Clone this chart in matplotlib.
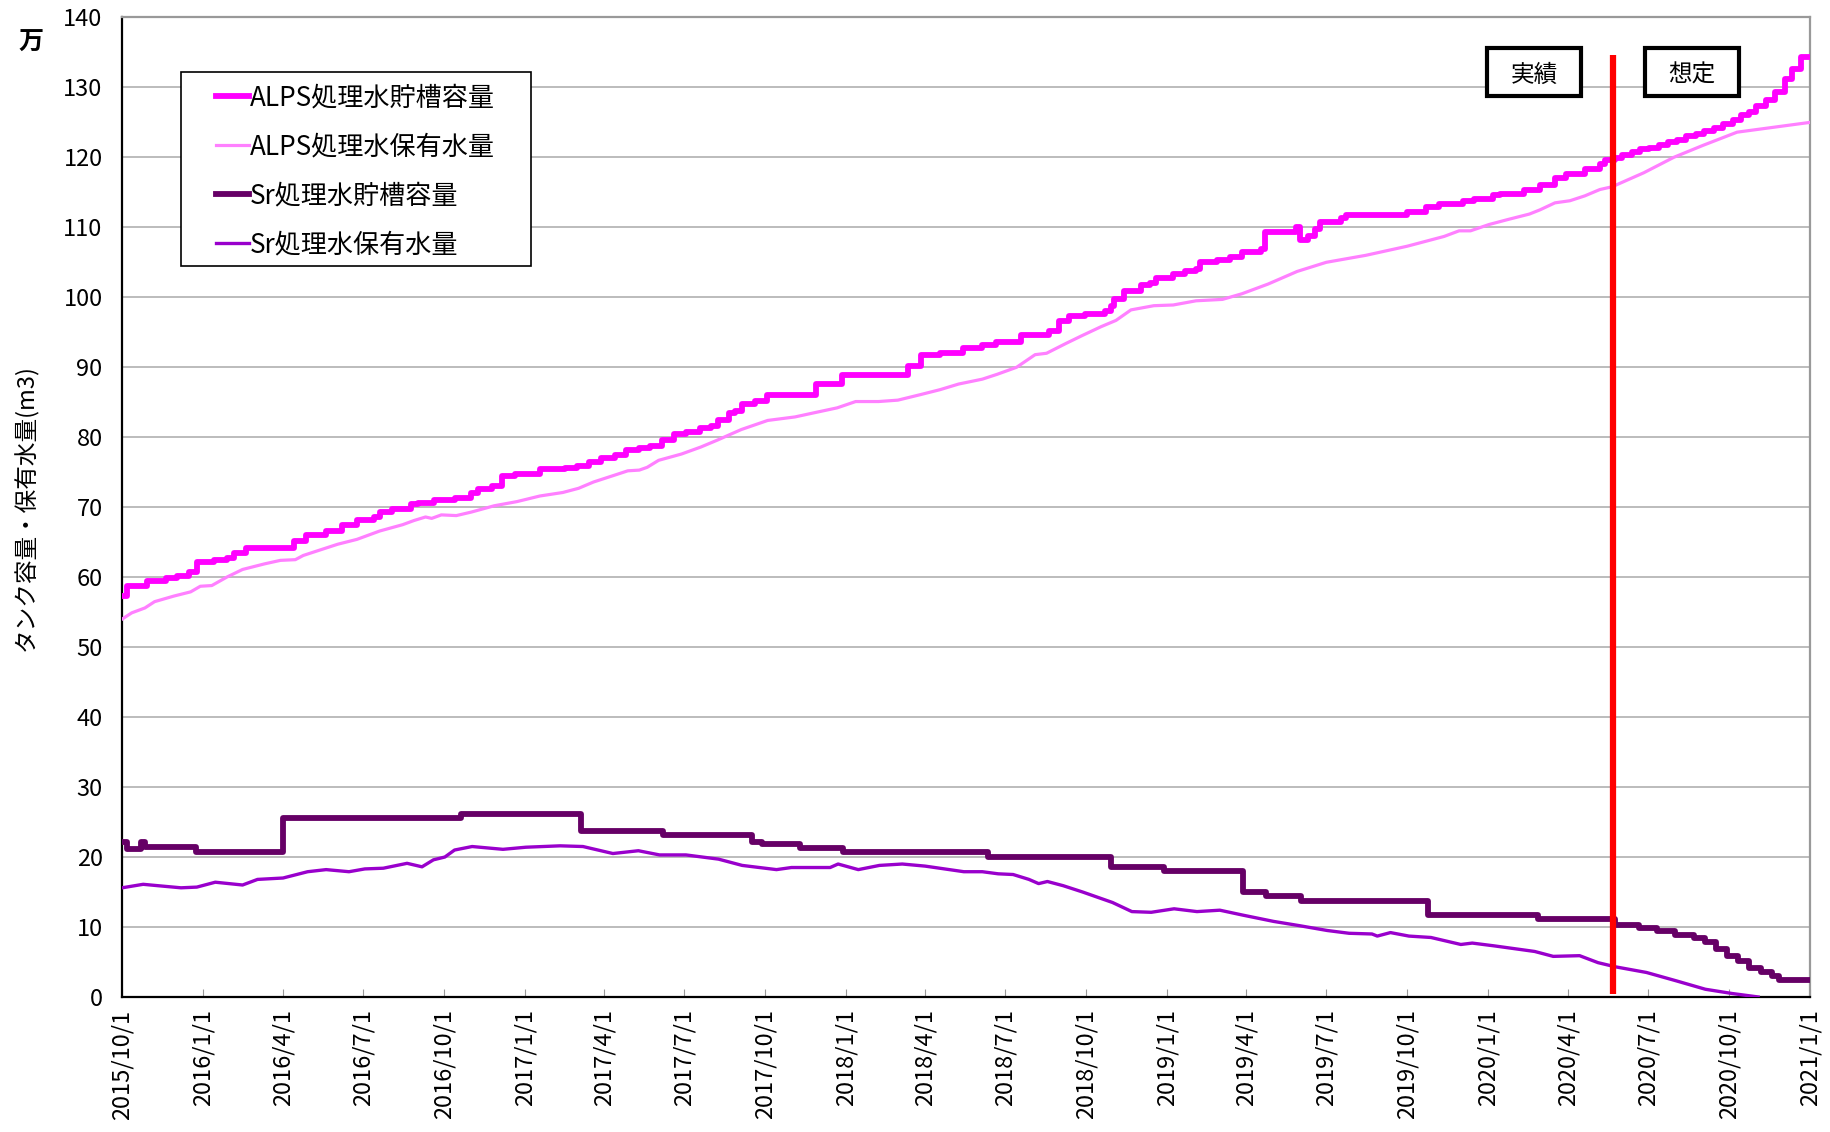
import numpy as np
import pandas as pd
import matplotlib
matplotlib.use('Agg')
import matplotlib.pyplot as plt
import matplotlib.dates as mdates
from matplotlib.patches import Rectangle

plt.rcParams['font.family'] = ['Noto Sans CJK JP', 'DejaVu Sans']

# ALPS処理水貯槽容量 (万m3), 階段状
alps_cap_dates = [
    '2015-10-01', '2015-10-07', '2015-10-29', '2015-11-20', '2015-12-03', '2015-12-16',
    '2015-12-25', '2016-01-14', '2016-01-28', '2016-02-05', '2016-02-19', '2016-04-13',
    '2016-04-27', '2016-05-20', '2016-06-07', '2016-06-24', '2016-07-13', '2016-07-20',
    '2016-08-03', '2016-08-24', '2016-09-01', '2016-09-20', '2016-10-13', '2016-11-01',
    '2016-11-09', '2016-11-25', '2016-12-06', '2016-12-21', '2017-01-18', '2017-02-16',
    '2017-03-01', '2017-03-15', '2017-03-29', '2017-04-13', '2017-04-26', '2017-05-11',
    '2017-05-23', '2017-06-06', '2017-06-20', '2017-07-03', '2017-07-19', '2017-08-01',
    '2017-08-08', '2017-08-21', '2017-08-28', '2017-09-05', '2017-09-20', '2017-10-03',
    '2017-11-28', '2017-12-27', '2018-03-13', '2018-03-27', '2018-04-18', '2018-05-14',
    '2018-06-05', '2018-06-20', '2018-07-19', '2018-08-20', '2018-08-31', '2018-09-11',
    '2018-09-30', '2018-10-22', '2018-10-29', '2018-11-02', '2018-11-13', '2018-12-02',
    '2018-12-13', '2018-12-20', '2019-01-08', '2019-01-21', '2019-02-03', '2019-02-07',
    '2019-02-27', '2019-03-14', '2019-03-27', '2019-04-18', '2019-04-22', '2019-05-28',
    '2019-06-01', '2019-06-10', '2019-06-18', '2019-06-24', '2019-07-18', '2019-07-24',
    '2019-10-01', '2019-10-22', '2019-11-06', '2019-11-14', '2019-12-03', '2019-12-16',
    '2020-01-06', '2020-01-14', '2020-02-11', '2020-02-29', '2020-03-17', '2020-03-30',
    '2020-04-20', '2020-05-07', '2020-05-13', '2020-05-24', '2020-06-01', '2020-06-13',
    '2020-06-22', '2020-07-02', '2020-07-13', '2020-07-23', '2020-08-03', '2020-08-13',
    '2020-08-24', '2020-09-03', '2020-09-14', '2020-09-24', '2020-10-05', '2020-10-15',
    '2020-10-24', '2020-11-01', '2020-11-12', '2020-11-22', '2020-12-03', '2020-12-11',
    '2020-12-22', '2021-01-01']
alps_cap_vals = [
    57.3, 58.8, 59.5, 59.9, 60.2, 60.7,
    62.1, 62.4, 62.8, 63.5, 64.2, 65.1,
    66.0, 66.6, 67.4, 68.1, 68.6, 69.3,
    69.7, 70.4, 70.6, 71.0, 71.3, 72.0,
    72.6, 73.1, 74.4, 74.7, 75.4, 75.6,
    75.9, 76.4, 77.0, 77.5, 78.2, 78.4,
    78.8, 79.6, 80.4, 80.8, 81.3, 81.6,
    82.4, 83.4, 83.8, 84.7, 85.2, 86.1,
    87.6, 88.9, 90.2, 91.8, 92.1, 92.7,
    93.2, 93.6, 94.6, 95.2, 96.6, 97.3,
    97.6, 98.0, 98.8, 99.7, 100.9, 101.8,
    102.1, 102.8, 103.3, 103.7, 104.0, 105.1,
    105.4, 105.8, 106.5, 106.9, 109.3, 110.0,
    108.2, 108.7, 109.7, 110.7, 111.3, 111.7,
    112.2, 112.9, 113.3, 113.4, 113.7, 114.1,
    114.6, 114.8, 115.3, 116.1, 117.0, 117.6,
    118.3, 119.1, 119.6, 119.9, 120.4, 120.8,
    121.2, 121.4, 121.8, 122.2, 122.5, 123.0,
    123.3, 123.8, 124.2, 124.8, 125.3, 126.0,
    126.5, 127.3, 128.2, 129.4, 131.2, 132.6,
    134.3, 134.3]

# ALPS処理水保有水量 (万m3)
alps_hold_dates = [
    '2015-10-01', '2015-10-12', '2015-10-27', '2015-11-07', '2015-11-29', '2015-12-18',
    '2015-12-29', '2016-01-11', '2016-01-28', '2016-02-15', '2016-03-11', '2016-03-29',
    '2016-04-15', '2016-04-24', '2016-05-11', '2016-06-02', '2016-06-24', '2016-07-20',
    '2016-08-15', '2016-08-28', '2016-09-10', '2016-09-17', '2016-09-28', '2016-10-15',
    '2016-11-01', '2016-11-27', '2016-12-23', '2017-01-18', '2017-02-13', '2017-03-03',
    '2017-03-20', '2017-04-11', '2017-04-28', '2017-05-11', '2017-05-20', '2017-06-02',
    '2017-06-28', '2017-07-20', '2017-08-08', '2017-09-04', '2017-10-04', '2017-11-04',
    '2017-11-26', '2017-12-22', '2018-01-12', '2018-02-07', '2018-03-01', '2018-03-27',
    '2018-04-18', '2018-05-09', '2018-06-05', '2018-06-22', '2018-07-14', '2018-08-04',
    '2018-08-17', '2018-09-08', '2018-09-26', '2018-10-18', '2018-11-04', '2018-11-21',
    '2018-12-17', '2019-01-08', '2019-02-03', '2019-03-05', '2019-03-27', '2019-04-26',
    '2019-05-29', '2019-07-01', '2019-08-15', '2019-10-01', '2019-10-22', '2019-11-12',
    '2019-11-29', '2019-12-12', '2020-01-02', '2020-01-23', '2020-02-17', '2020-02-29',
    '2020-03-17', '2020-04-03', '2020-04-20', '2020-05-07', '2020-05-21', '2020-06-26',
    '2020-07-30', '2020-09-01', '2020-10-10', '2021-01-01']
alps_hold_vals = [
    54.0, 54.9, 55.6, 56.5, 57.3, 57.9,
    58.7, 58.8, 60.0, 61.1, 61.9, 62.4,
    62.5, 63.1, 63.8, 64.7, 65.4, 66.6,
    67.5, 68.1, 68.6, 68.4, 68.9, 68.8,
    69.3, 70.2, 70.8, 71.6, 72.1, 72.7,
    73.6, 74.5, 75.2, 75.3, 75.7, 76.7,
    77.6, 78.6, 79.6, 81.1, 82.4, 82.9,
    83.5, 84.2, 85.1, 85.1, 85.3, 86.1,
    86.8, 87.6, 88.3, 89.0, 90.0, 91.8,
    92.0, 93.4, 94.5, 95.8, 96.7, 98.2,
    98.8, 98.9, 99.5, 99.7, 100.5, 101.9,
    103.7, 105.0, 106.0, 107.3, 108.0, 108.7,
    109.5, 109.5, 110.4, 111.1, 111.9, 112.5,
    113.5, 113.8, 114.5, 115.4, 115.8, 117.8,
    120.0, 121.7, 123.6, 125.0]

# Sr処理水貯槽容量 (万m3), 階段状
sr_cap_dates = [
    '2015-10-01', '2015-10-07', '2015-10-23', '2015-10-27', '2015-12-24', '2016-04-01',
    '2016-10-20', '2017-03-06', '2017-06-07', '2017-09-16', '2017-09-27', '2017-11-10',
    '2017-12-29', '2018-06-11', '2018-10-29', '2018-12-28', '2019-03-28', '2019-04-23',
    '2019-06-02', '2019-10-25', '2020-02-27', '2020-05-24', '2020-06-20', '2020-07-11',
    '2020-08-01', '2020-08-22', '2020-09-04', '2020-09-16', '2020-09-29', '2020-10-11',
    '2020-10-24', '2020-11-06', '2020-11-19', '2020-11-27', '2021-01-01']
sr_cap_vals = [
    22.1, 21.1, 22.1, 21.4, 20.7, 25.6,
    26.2, 23.7, 23.1, 22.2, 21.9, 21.3,
    20.7, 20.0, 18.6, 18.0, 15.0, 14.5,
    13.7, 11.7, 11.1, 10.3, 9.8, 9.4,
    8.9, 8.4, 7.8, 6.8, 5.9, 5.1,
    4.1, 3.5, 3.0, 2.4, 2.4]

# Sr処理水保有水量 (万m3)
sr_hold_dates = [
    '2015-10-01', '2015-10-25', '2015-11-11', '2015-12-07', '2015-12-25', '2016-01-15',
    '2016-02-15', '2016-03-03', '2016-04-01', '2016-04-29', '2016-05-20', '2016-06-15',
    '2016-07-03', '2016-07-24', '2016-08-20', '2016-09-06', '2016-09-19', '2016-10-02',
    '2016-10-13', '2016-11-02', '2016-12-07', '2017-01-02', '2017-02-10', '2017-03-08',
    '2017-03-25', '2017-04-11', '2017-05-10', '2017-06-03', '2017-07-03', '2017-08-09',
    '2017-09-05', '2017-10-14', '2017-10-31', '2017-12-14', '2017-12-23', '2018-01-15',
    '2018-02-08', '2018-03-06', '2018-04-01', '2018-05-15', '2018-06-05', '2018-06-23',
    '2018-07-10', '2018-07-28', '2018-08-08', '2018-08-18', '2018-09-05', '2018-09-27',
    '2018-10-31', '2018-11-22', '2018-12-14', '2019-01-09', '2019-02-04', '2019-03-02',
    '2019-03-28', '2019-05-02', '2019-05-31', '2019-07-02', '2019-07-27', '2019-08-22',
    '2019-08-28', '2019-09-12', '2019-10-03', '2019-10-28', '2019-12-01', '2019-12-14',
    '2020-01-08', '2020-02-23', '2020-03-15', '2020-04-14', '2020-05-05', '2020-05-25',
    '2020-06-29', '2020-08-02', '2020-09-04', '2020-10-04', '2020-11-03']
sr_hold_vals = [
    15.6, 16.1, 15.9, 15.6, 15.7, 16.4,
    16.0, 16.8, 17.0, 17.9, 18.2, 17.9,
    18.3, 18.4, 19.1, 18.6, 19.6, 20.0,
    21.0, 21.5, 21.1, 21.4, 21.6, 21.5,
    21.0, 20.5, 20.9, 20.3, 20.3, 19.7,
    18.8, 18.2, 18.5, 18.5, 19.0, 18.2,
    18.8, 19.0, 18.7, 17.9, 17.9, 17.6,
    17.5, 16.8, 16.2, 16.5, 15.9, 15.0,
    13.5, 12.2, 12.1, 12.6, 12.2, 12.4,
    11.7, 10.8, 10.2, 9.5, 9.1, 9.0,
    8.7, 9.2, 8.7, 8.5, 7.5, 7.7,
    7.3, 6.5, 5.8, 5.9, 4.9, 4.3,
    3.5, 2.3, 1.1, 0.5, 0.0]

series_labels = ['ALPS処理水貯槽容量', 'ALPS処理水保有水量', 'Sr処理水貯槽容量', 'Sr処理水保有水量']

# 実績/想定の境目
boundary_date = '2020-05-22'
boundary_top = 134.6

x_start, x_end = '2015-10-01', '2021-01-01'

fig = plt.figure(figsize=(18.3, 11.32), dpi=100)
ax = fig.add_axes([0.0667, 0.1193, 0.9224, 0.8653])

ax.plot(pd.to_datetime(alps_cap_dates), alps_cap_vals, drawstyle='steps-post',
        color='#FF00FF', lw=4.2, label=series_labels[0], zorder=4)
ax.plot(pd.to_datetime(alps_hold_dates), alps_hold_vals,
        color='#FF80FF', lw=2.3, label=series_labels[1], zorder=3)
ax.plot(pd.to_datetime(sr_cap_dates), sr_cap_vals, drawstyle='steps-post',
        color='#660066', lw=4.2, label=series_labels[2], zorder=4)
ax.plot(pd.to_datetime(sr_hold_dates), sr_hold_vals,
        color='#9900CC', lw=2.4, label=series_labels[3], zorder=3)

bd = pd.to_datetime(boundary_date)
ax.plot([bd, bd], [0.4, boundary_top], color='#FF0000', lw=4.5, zorder=6,
        solid_capstyle='butt')

ax.set_xlim(pd.to_datetime(x_start), pd.to_datetime(x_end))
ax.set_ylim(0, 140)
ax.set_yticks(np.arange(0, 141, 10))
ax.yaxis.grid(True, color='#b0b0b0', lw=1.2)
ax.set_axisbelow(True)

ax.xaxis.set_major_locator(mdates.MonthLocator(bymonth=[1, 4, 7, 10], bymonthday=1))
ax.xaxis.set_major_formatter(
    plt.FuncFormatter(lambda v, p: '{0.year}/{0.month}/{0.day}'.format(mdates.num2date(v))))
ax.tick_params(axis='x', direction='in', length=6, color='#999999', pad=9,
               labelsize=17, labelrotation=90)
ax.tick_params(axis='y', length=0, pad=14, labelsize=17)

for s in ['left', 'bottom']:
    ax.spines[s].set_color('black')
    ax.spines[s].set_linewidth(1.6)
for s in ['top', 'right']:
    ax.spines[s].set_color('#999999')
    ax.spines[s].set_linewidth(1.6)

# 凡例 (枠は別に描く)
ax.add_patch(Rectangle((181 / 1830, 1 - 266 / 1132), 350 / 1830, 194 / 1132,
                       transform=fig.transFigure, fc='white', ec='black',
                       lw=1.2, zorder=5, clip_on=False))
leg = ax.legend(loc='upper left', bbox_to_anchor=(216 / 1830, 1 - 84 / 1132),
                bbox_transform=fig.transFigure, frameon=False, fontsize=18.8,
                handlelength=1.25, handletextpad=0.05, borderpad=0, borderaxespad=0,
                labelspacing=0.85)
leg.set_zorder(10)

# 実績 / 想定 ボックス
for x0, txt in [(0.8086, '実績'), (0.9023, '想定')]:
    ax.add_patch(Rectangle((x0, 0.9194), 0.0557, 0.049, transform=ax.transAxes,
                           fc='white', ec='black', lw=3, zorder=7, clip_on=False))
    ax.text(x0 + 0.0557 / 2, 0.9194 + 0.049 / 2 - 0.003, txt, transform=ax.transAxes,
            ha='center', va='center', fontsize=17, zorder=8)

fig.text(31 / 1830, 1 - 43 / 1132, '万', fontsize=18, fontweight='bold',
         ha='center', va='center')
fig.text(26 / 1830, 1 - 508 / 1132, 'タンク容量・保有水量(m3)', fontsize=17,
         rotation=90, ha='center', va='center')

fig.savefig('out.png', dpi=100)
